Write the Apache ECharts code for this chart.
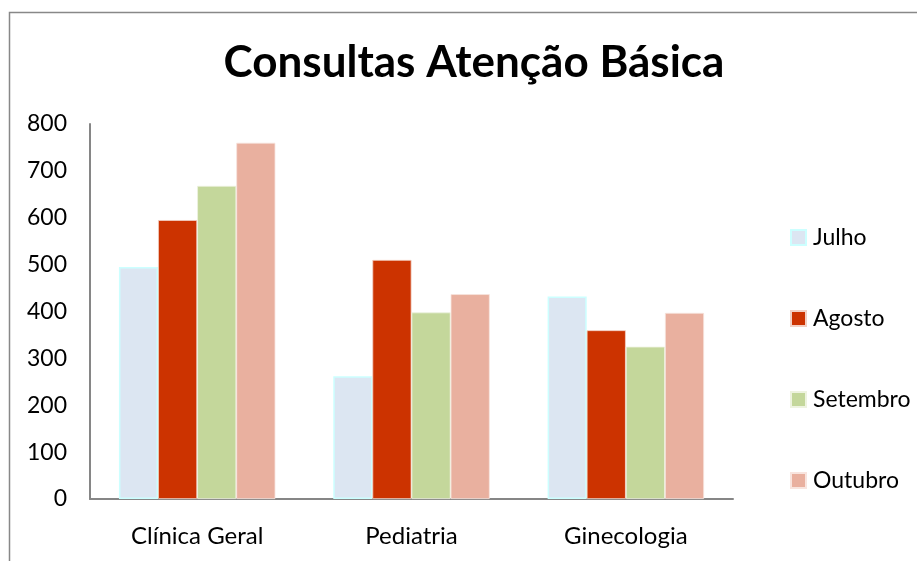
<!DOCTYPE html>
<html>
<head>
<meta charset="utf-8">
<style>
    html, body { margin: 0; padding: 0; background: #fff; }
    #myChart { width: 917px; height: 561px; }
</style>
<script src="https://cdn.jsdelivr.net/npm/echarts@6/dist/echarts.min.js"></script>
</head>
<body>
<div id="myChart"></div>
<script>
    // dados
    var categorias = ['Clínica Geral', 'Pediatria', 'Ginecologia']
    var meses = ['Julho', 'Agosto', 'Setembro', 'Outubro']
    var julho = [495, 262, 432]
    var agosto = [595, 510, 360]
    var setembro = [668, 398, 325]
    var outubro = [760, 437, 397]
    var valores = [julho, agosto, setembro, outubro]

    var cores = ['#dce6f2', '#cc3300', '#c4d79b', '#e9b09f']
    var bordas = ['#ccffff', '#f2d0c4', '#eef3e0', '#f8e4de']

    var myChart = echarts.init(document.getElementById('myChart'))

    var series = meses.map(function (m, i) {
        return {
            name: m,
            type: 'bar',
            barGap: 0,
            barCategoryGap: '27%',
            itemStyle: {
                color: cores[i],
                borderColor: bordas[i],
                borderWidth: i === 0 ? 1.5 : 0.8
            },
            data: valores[i]
        }
    })

    myChart.setOption({
        animation: false,
        textStyle: { fontFamily: 'Lato' },
        title: {
            text: 'Consultas Atenção Básica',
            left: 469,
            top: 36,
            textAlign: 'center',
            textStyle: {
                fontFamily: 'Lato',
                fontSize: 44,
                fontWeight: 'bold',
                color: '#000'
            }
        },
        graphic: [{
            type: 'rect',
            shape: { x: 9.5, y: 12.5, width: 950, height: 600 },
            style: { fill: 'none', stroke: '#888', lineWidth: 1.5 },
            silent: true
        }],
        legend: {
            orient: 'vertical',
            left: 790,
            top: 226,
            padding: 0,
            itemWidth: 15,
            itemHeight: 15,
            itemGap: 58,
            icon: 'rect',
            textStyle: { fontFamily: 'Lato', fontSize: 23, color: '#000', padding: [0, 0, 0, 2] },
            data: meses
        },
        grid: {
            left: 90,
            top: 124,
            width: 643,
            height: 375,
            containLabel: false
        },
        xAxis: {
            type: 'category',
            data: categorias,
            axisLine: { lineStyle: { color: '#868686', width: 2 } },
            axisTick: { show: false },
            axisLabel: { color: '#000', fontSize: 24, margin: 25, fontFamily: 'Lato' }
        },
        yAxis: {
            type: 'value',
            min: 0,
            max: 800,
            interval: 100,
            axisLine: { show: true, lineStyle: { color: '#868686', width: 2 } },
            axisTick: { show: false },
            splitLine: { show: false },
            axisLabel: { color: '#000', fontSize: 23, margin: 23, fontFamily: 'Lato' }
        },
        series: series
    })
</script>
</body>
</html>
